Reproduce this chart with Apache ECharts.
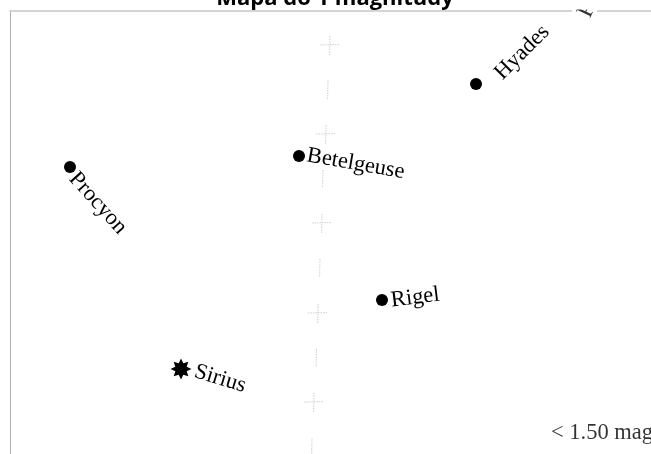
<!DOCTYPE html>
<html><head><meta charset="utf-8">
<style>html,body{margin:0;padding:0;background:#fff;overflow:hidden}#c{width:651px;height:454px}</style>
<script src="https://cdn.jsdelivr.net/npm/echarts@6/dist/echarts.min.js"></script>
</head><body><div id="c"></div>
<script>
const chartTitle = 'Mapa do 1 magnitudy';
const starNames = ['Hyades', 'Procyon', 'Betelgeuse', 'Rigel'];
const starX = [476, 70, 299, 382];
const starY = [84, 167, 156, 300];
const starAngles = [45, -48, -10, 7];
const starShiftX = [17, 4, 2, 3];
const starShiftY = [6, 8, -1, 1];
const brightName = 'Sirius';
const brightX = 181;
const brightY = 369;
const brightAngle = -17;
const clippedName = 'P';
const clippedX = 584;
const clippedY = 16;
const legendText = '< 1.50 mag';
const legendX = 551;
const legendY = 433;
// meridian: cross centres and dash ends
const crossX = [330, 326, 322, 318, 314];
const crossY = [45, 134, 223, 313, 402];
const dashX = [328, 323, 320, 316.5, 312];
const dashTop = [80, 170, 259, 349, 438];
const dashBottom = [99, 188, 277, 367, 456];

const meridian = [];
crossX.forEach((x, i) => {
  const y = crossY[i];
  meridian.push([x - 10, y], [x + 10, y - 0.4], ['-', '-'], [x, y - 9], [x - 0.3, y + 10], ['-', '-']);
});
dashX.forEach((x, i) => {
  meridian.push([x, dashTop[i]], [x - 0.4, dashBottom[i]], ['-', '-']);
});

const STAR8 = 'path://M50 0L61 23L85 15L77 39L100 50L77 61L85 85L61 77L50 100L39 77L15 85L23 61L0 50L23 39L15 15L39 23Z';
const serif = 'Liberation Serif';
const lab = (rot, dx, dy, size) => ({
  show: true, position: 'right', distance: 0, offset: [dx, dy], rotate: rot, align: 'left', verticalAlign: 'middle',
  formatter: p => p.name, fontFamily: serif, fontSize: size || 22.5, color: '#000'
});

const chart = echarts.init(document.getElementById('c'), null, {renderer: 'canvas'});
chart.setOption({
  animation: false,
  backgroundColor: '#fff',
  title: {
    text: chartTitle, left: 330, top: -17, textAlign: 'center',
    textStyle: {fontFamily: 'Open Sans', fontWeight: 'bold', fontSize: 22, color: '#000'}
  },
  grid: {left: 10, top: 11, right: 0, bottom: 0},
  xAxis: {
    type: 'value', min: 10, max: 651, position: 'top',
    axisLine: {show: true, onZero: false, lineStyle: {color: '#c8c8c8', width: 1.5}},
    axisTick: {show: false}, axisLabel: {show: false}, splitLine: {show: false}
  },
  yAxis: {
    type: 'value', min: 11, max: 454, inverse: true, position: 'left',
    axisLine: {show: true, onZero: false, lineStyle: {color: '#b0b0b0', width: 1}},
    axisTick: {show: false}, axisLabel: {show: false}, splitLine: {show: false}
  },
  series: [
    {
      type: 'line', data: meridian, symbol: 'none', silent: true, connectNulls: false, z: 1,
      lineStyle: {color: '#d0d0d0', width: 1, type: [1.5, 1]}
    },
    {
      type: 'scatter', symbol: 'circle', symbolSize: 12, z: 3,
      itemStyle: {color: '#000', opacity: 1},
      data: starNames.map((n, i) => ({
        name: n, value: [starX[i], starY[i]],
        label: lab(starAngles[i], starShiftX[i], starShiftY[i])
      }))
    },
    {
      type: 'scatter', symbol: STAR8, symbolSize: 21, z: 3,
      itemStyle: {color: '#000', opacity: 1},
      data: [{name: brightName, value: [brightX, brightY], label: lab(brightAngle, 4, 1)}]
    },
    {
      type: 'scatter', symbolSize: 0, z: 4,
      data: [{name: clippedName, value: [clippedX, clippedY], label: lab(65, 0, 0, 24)}]
    },
    {
      type: 'scatter', symbolSize: 0, z: 3,
      data: [{name: legendText, value: [legendX, legendY], label: lab(0, 0, 0, 22.5)}]
    }
  ],
  graphic: [
    {type: 'rect', z: 100, silent: true, shape: {x: 572, y: 0, width: 25, height: 9.5}, style: {fill: '#fff'}},
    {type: 'rect', z: 1, silent: true, shape: {x: 572, y: 9, width: 25, height: 4}, style: {fill: '#fff'}}
  ]
});
</script></body></html>
